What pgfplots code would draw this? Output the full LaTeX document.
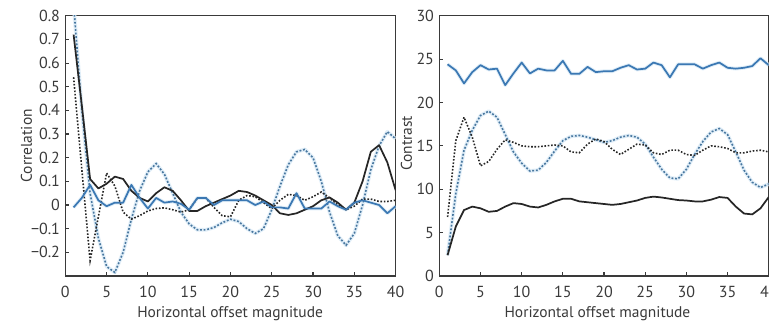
\documentclass[border=0pt]{standalone}
\usepackage{fontspec}
\setmainfont{PT Sans}
\usepackage{pgfplots}
\usepackage{pgfplotstable}
\pgfplotsset{compat=1.18}
\definecolor{axc}{HTML}{3A3A3A}
\definecolor{blk}{HTML}{262626}
\definecolor{blu}{HTML}{3B78B3}
\definecolor{bld}{HTML}{48779F}
\definecolor{halo}{HTML}{E1EEF8}

\pgfplotstableread{
x bs bd us ud
1 0.72 0.54 -0.01 0.85
2 0.42 0.15 0.03 0.40
3 0.11 -0.235 0.085 0.05
4 0.07 -0.05 0.02 -0.14
5 0.09 0.135 -0.005 -0.26
6 0.12 0.08 0.01 -0.285
7 0.11 -0.03 0.01 -0.20
8 0.06 -0.06 0.085 -0.06
9 0.03 -0.045 0.03 0.06
10 0.015 -0.025 -0.015 0.14
11 0.05 -0.015 0.03 0.175
12 0.075 -0.012 0.01 0.13
13 0.06 -0.02 0.015 0.05
14 0.02 -0.03 0.005 -0.03
15 -0.025 -0.02 -0.02 -0.08
16 -0.025 0.03 0.03 -0.105
17 -0.005 0.03 0.03 -0.105
18 0.01 -0.01 0.0 -0.095
19 0.025 -0.045 0.02 -0.075
20 0.04 -0.05 0.02 -0.06
21 0.06 0.02 0.02 -0.07
22 0.055 0.04 0.02 -0.10
23 0.04 0.035 0.0 -0.12
24 0.02 0.01 0.015 -0.10
25 0.0 -0.015 -0.01 -0.02
26 -0.035 0.02 -0.01 0.08
27 -0.042 0.045 -0.015 0.17
28 -0.035 0.04 0.05 0.225
29 -0.02 0.02 -0.015 0.235
30 -0.005 0.035 -0.015 0.20
31 0.02 0.055 -0.015 0.10
32 0.032 0.03 0.015 -0.03
33 0.01 0.0 -0.005 -0.13
34 -0.02 -0.02 -0.02 -0.17
35 0.01 -0.005 0.01 -0.12
36 0.10 0.025 0.02 0.0
37 0.225 0.025 0.01 0.15
38 0.253 0.015 0.0 0.25
39 0.18 0.015 -0.035 0.31
40 0.063 0.02 -0.005 0.28
}\corr

\pgfplotstableread{
x bs bd us ud
1 2.4 6.8 24.4 2.4
2 5.7 15.6 23.7 9.5
3 7.6 18.3 22.2 14.5
4 8.0 16.0 23.5 16.8
5 7.8 12.7 24.3 18.5
6 7.4 13.2 23.8 19.0
7 7.5 14.6 23.9 18.3
8 8.0 15.7 22.0 16.3
9 8.4 15.4 23.35 14.3
10 8.3 15.0 24.6 13.0
11 8.0 14.9 23.35 12.1
12 7.9 14.9 23.9 12.2
13 8.2 15.0 23.7 13.1
14 8.6 15.1 23.7 14.4
15 8.9 15.0 24.8 15.6
16 8.9 14.3 23.3 16.1
17 8.6 14.2 23.3 16.2
18 8.5 15.2 24.1 16.0
19 8.4 15.8 23.5 15.7
20 8.3 15.5 23.6 15.4
21 8.2 14.6 23.6 15.6
22 8.3 14.0 24.0 16.0
23 8.5 14.6 24.3 16.2
24 8.7 15.2 23.8 16.0
25 9.0 15.1 23.9 15.2
26 9.15 14.2 24.6 13.7
27 9.05 14.0 24.3 12.3
28 8.9 14.5 22.9 11.3
29 8.75 14.5 24.4 11.2
30 8.7 14.0 24.4 12.3
31 8.6 13.9 24.4 14.0
32 8.6 14.5 23.9 15.5
33 8.8 15.0 24.3 16.6
34 9.1 14.9 24.6 17.0
35 9.0 14.7 24.0 16.3
36 8.0 14.2 23.9 14.3
37 7.2 14.2 24.0 12.2
38 7.1 14.4 24.2 10.8
39 7.8 14.5 25.1 10.2
40 9.1 14.3 24.3 10.6
}\contr

\pgfplotsset{
  myaxis/.style={
    scale only axis,
    height=195.2pt,
    xmin=0, xmax=40,
    xtick={0,5,...,40},
    axis line style={color=axc, line width=0.8pt},
    tick style={color=axc, line width=0.8pt},
    tick pos=left,
    tick align=inside,
    major tick length=3pt,
    /pgf/number format/assume math mode=true,
    tick label style={font=\fontsize{12}{14}\selectfont, text=axc},
    label style={font=\fontsize{11.6}{14}\selectfont, text=axc},
    xticklabel style={yshift=-4pt},
    yticklabel style={xshift=-0.5pt},
  },
  halo/.style={color=halo, line width=2.8pt, line join=round, forget plot},
  bsol/.style={color=blk, line width=1.3pt, line join=round},
  bdot/.style={color=blk, line width=1.2pt, dash pattern=on 1.2pt off 1.3pt},
  usol/.style={color=blu, line width=1.3pt, line join=round},
  udot/.style={color=bld, line width=1.2pt, dash pattern=on 1.4pt off 1.3pt},
}

\begin{document}
\begin{tikzpicture}
\begin{axis}[myaxis,
  at={(49pt,36pt)}, anchor=south west,
  width=247.7pt,
  ymin=-0.3, ymax=0.8,
  ytick={-0.2,-0.1,0,0.1,0.2,0.3,0.4,0.5,0.6,0.7,0.8},
  yticklabels={−0.2,−0.1,0,0.1,0.2,0.3,0.4,0.5,0.6,0.7,0.8},
  xlabel={Horizontal offset magnitude},
  ylabel={Correlation},
  xlabel style={at={(axis description cs:0.499,-0.146)}, anchor=center},
  ylabel style={at={(axis description cs:-0.118,0.5)}, anchor=center, rotate=0},
]
\addplot[halo] table[x=x,y=ud]{\corr};
\addplot[halo] table[x=x,y=us]{\corr};
\addplot[udot] table[x=x,y=ud]{\corr};
\addplot[bdot] table[x=x,y=bd]{\corr};
\addplot[bsol] table[x=x,y=bs]{\corr};
\addplot[usol] table[x=x,y=us]{\corr};
\end{axis}

\begin{axis}[myaxis,
  at={(329.5pt,36pt)}, anchor=south west,
  width=247.05pt,
  ymin=0, ymax=30,
  ytick={0,5,...,30},
  xlabel={Horizontal offset magnitude},
  ylabel={Contrast},
  xlabel style={at={(axis description cs:0.48,-0.146)}, anchor=center},
  ylabel style={at={(axis description cs:-0.1,0.51)}, anchor=center, rotate=0},
]
\addplot[halo] table[x=x,y=ud]{\contr};
\addplot[halo] table[x=x,y=us]{\contr};
\addplot[udot] table[x=x,y=ud]{\contr};
\addplot[bdot] table[x=x,y=bd]{\contr};
\addplot[bsol] table[x=x,y=bs]{\contr};
\addplot[usol] table[x=x,y=us]{\contr};
\end{axis}
\pgfresetboundingbox
\useasboundingbox (0,0) rectangle (576.75pt,243pt);
\end{tikzpicture}
\end{document}
